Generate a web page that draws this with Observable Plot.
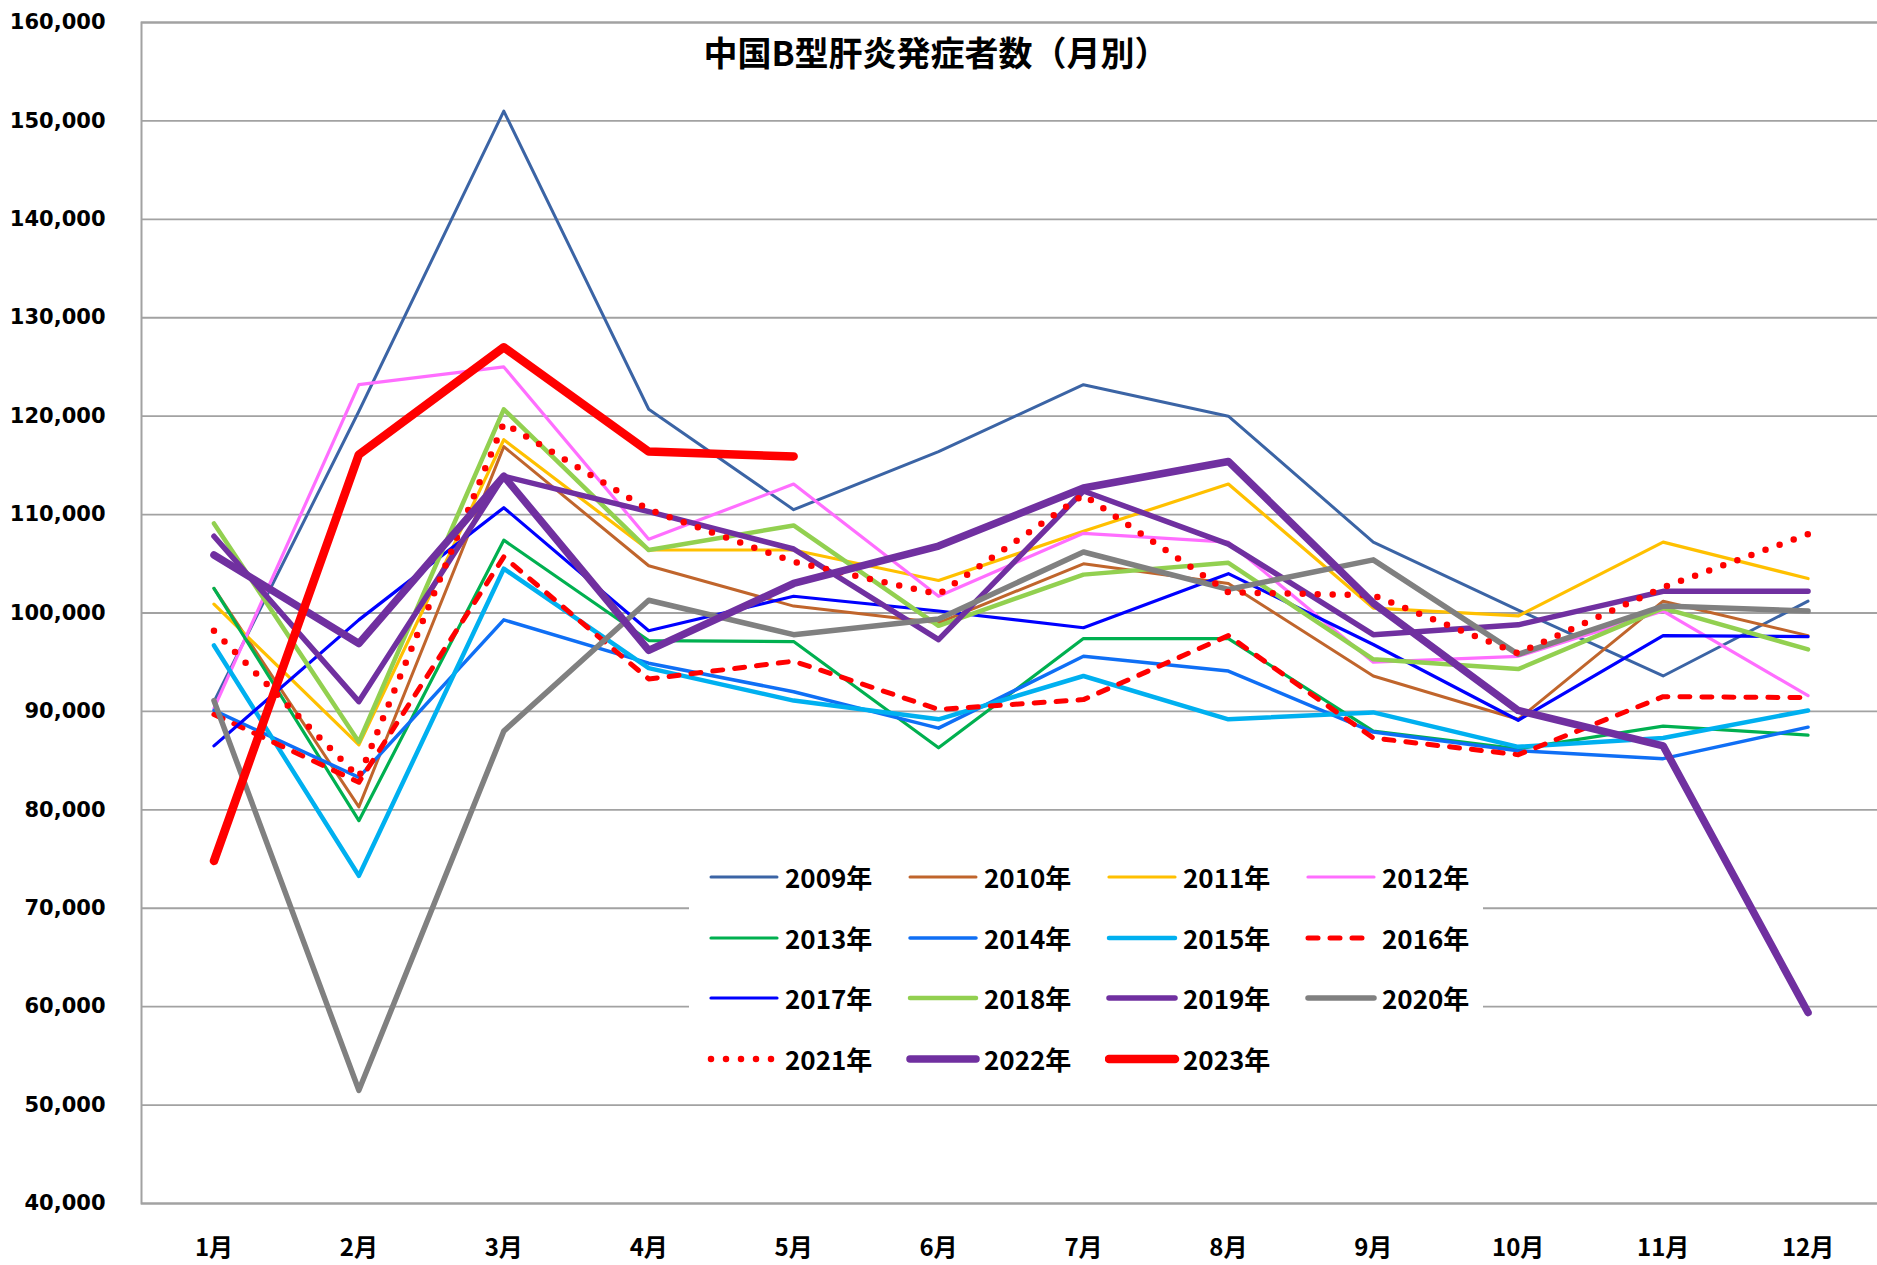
<!DOCTYPE html>
<html>
<head>
<meta charset="utf-8">
<script src="https://cdn.jsdelivr.net/npm/d3@7"></script>
<script src="https://cdn.jsdelivr.net/npm/@observablehq/plot@0.6"></script>
<style>
html, body { margin: 0; padding: 0; background: #fff; overflow: hidden; width: 1877px; height: 1265px; }
#wrap { position: relative; width: 1877px; height: 1265px; overflow: hidden; background: #fff; }
#chart { position: absolute; left: 0; top: 0; width: 1880px; }
#chart svg { max-width: none !important; }
#title { position: absolute; left: 436px; width: 1000px; top: 35px; text-align: center;
  font: bold 34px/34px "Noto Sans CJK JP", sans-serif; color: #000; white-space: nowrap; }
#legend { position: absolute; left: 689px; top: 845px; width: 794px; height: 240px; background: #fff; }
.item { position: absolute; height: 30px; }
.item svg { position: absolute; left: 0; top: 8px; }
.item span { position: absolute; left: 78px; top: 1px; font: bold 26px/28px "Noto Sans CJK JP", sans-serif; color: #000; white-space: nowrap; }
g[aria-label="y-axis tick label"] text { font: bold 21px "DejaVu Sans", sans-serif; fill: #000; }
g[aria-label="x-axis tick label"] text { font: bold 24px "Noto Sans CJK JP", sans-serif; fill: #000; }
</style>
</head>
<body>
<div id="wrap">
  <div id="chart"></div>
  <div id="title">中国B型肝炎発症者数（月別）</div>
  <div id="legend"></div>
</div>
<script>
// ---- data ----
const months = ["1月","2月","3月","4月","5月","6月","7月","8月","9月","10月","11月","12月"];
const years = ["2009年","2010年","2011年","2012年","2013年","2014年","2015年","2016年","2017年","2018年","2019年","2020年","2021年","2022年","2023年"];
const v2009 = [91000, 120500, 151000, 120700, 110500, 116400, 123200, 120000, 107200, 100300, 93600, 101200];
const v2010 = [102500, 80300, 116900, 104800, 100700, 99000, 105000, 103000, 93600, 89200, 101200, 97700];
const v2011 = [100900, 86600, 117600, 106400, 106400, 103300, 108300, 113100, 100500, 99700, 107200, 103500];
const v2012 = [90300, 123200, 125000, 107500, 113100, 101700, 108100, 107200, 95000, 95600, 100200, 91600];
const v2013 = [102500, 78900, 107400, 97200, 97100, 86300, 97400, 97400, 88000, 86200, 88500, 87600];
const v2014 = [90100, 83300, 99300, 94900, 92000, 88300, 95600, 94100, 87900, 86000, 85200, 88400];
const v2015 = [96700, 73300, 104500, 94400, 91100, 89200, 93600, 89200, 89900, 86400, 87300, 90100];
const v2016 = [89700, 82800, 105700, 93300, 95100, 90200, 91200, 97700, 87300, 85600, 91500, 91400];
const v2017 = [86500, 99300, 110700, 98200, 101700, 100200, 98500, 104000, 96800, 89100, 97700, 97600];
const v2018 = [109100, 86900, 120700, 106400, 108900, 98700, 103900, 105100, 95300, 94300, 100500, 96300];
const v2019 = [107800, 91000, 113900, 110300, 106500, 97300, 112400, 107000, 97800, 98800, 102200, 102200];
const v2020 = [91100, 51500, 88000, 101300, 97800, 99400, 106200, 102400, 105400, 95800, 100700, 100200];
const v2021 = [98200, 83300, 119300, 110500, 105200, 101900, 112000, 102100, 101800, 95900, 102600, 108000];
const v2022 = [105900, 96900, 113900, 96200, 103000, 106800, 112700, 115400, 101000, 90100, 86500, 59400];
const v2023 = [74800, 116100, 127000, 116400, 115900];
const yTicks = [40000, 50000, 60000, 70000, 80000, 90000, 100000, 110000, 120000, 130000, 140000, 150000, 160000];

// ---- styles ----
const series = [v2009, v2010, v2011, v2012, v2013, v2014, v2015, v2016, v2017, v2018, v2019, v2020, v2021, v2022, v2023];
const colors = ["#3B64A5","#C0652C","#FFC000","#FF6EFF","#00B050","#0F6FF5","#00B0F0","#FF0000","#0000FF","#92D050","#7030A0","#808080","#FF0000","#7030A0","#FF0000"];
const widths = [3, 3, 3.2, 3.2, 3.2, 3.5, 4.5, 5, 3.2, 4.5, 5.5, 5.5, 6.5, 7.5, 8.5];
const dashes = [null,null,null,null,null,null,null,"10,12",null,null,null,null,"0,15",null,null];

const rows = years.flatMap((y, i) => series[i].map((v, j) => ({year: y, month: months[j], value: v})));

const lineMarks = years.map((y, i) => Plot.line(rows.filter(d => d.year === y), {
  x: "month", y: "value",
  stroke: colors[i], strokeWidth: widths[i],
  strokeDasharray: dashes[i] || undefined,
  strokeLinecap: "round", strokeLinejoin: "round"
}));

const chart = Plot.plot({
  width: 1880, height: 1265,
  marginLeft: 141, marginRight: 0, marginTop: 22, marginBottom: 62,
  x: {type: "point", domain: months, padding: 0.5, round: false},
  y: {domain: [40000, 160000]},
  style: {background: "transparent", overflow: "visible"},
  marks: [
    Plot.ruleY(yTicks, {stroke: "#a2a2a2", strokeWidth: 1.8}),
    Plot.frame({stroke: "#a2a2a2", strokeWidth: 2}),
    Plot.axisY({ticks: yTicks, tickSize: 0, tickPadding: 36, tickFormat: d3.format(","), label: null}),
    Plot.axisX({tickSize: 0, tickPadding: 35, label: null}),
    ...lineMarks
  ]
});
document.getElementById("chart").appendChild(chart);

// ---- legend ----
const legend = document.getElementById("legend");
years.forEach((y, i) => {
  const r = Math.floor(i / 4), c = i % 4;
  const item = document.createElement("div");
  item.className = "item";
  item.style.left = (18 + 199 * c) + "px";
  item.style.top = (32 + 60.7 * r - 15) + "px";
  const ns = "http://www.w3.org/2000/svg";
  const s = document.createElementNS(ns, "svg");
  s.setAttribute("width", 76); s.setAttribute("height", 14);
  const ln = document.createElementNS(ns, "line");
  ln.setAttribute("x1", 4); ln.setAttribute("x2", 70);
  ln.setAttribute("y1", 7); ln.setAttribute("y2", 7);
  ln.setAttribute("stroke", colors[i]);
  ln.setAttribute("stroke-width", widths[i]);
  ln.setAttribute("stroke-linecap", "round");
  if (dashes[i]) ln.setAttribute("stroke-dasharray", dashes[i]);
  s.appendChild(ln);
  item.appendChild(s);
  const t = document.createElement("span");
  t.textContent = y;
  item.appendChild(t);
  legend.appendChild(item);
});
</script>
</body>
</html>
